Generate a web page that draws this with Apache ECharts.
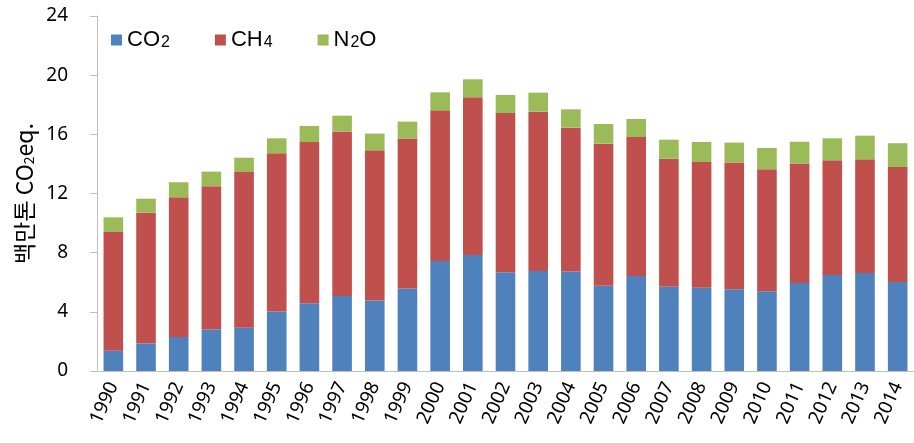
<!DOCTYPE html>
<html>
<head>
<meta charset="utf-8">
<script src="https://cdn.jsdelivr.net/npm/echarts@6/dist/echarts.min.js"></script>
<style>
	html, body { margin: 0; padding: 0; background: #fff; }
	#chart { width: 914px; height: 443px; }
</style>
</head>
<body>
<div id="chart"></div>
<script>
	// 연도
	var years = ['1990', '1991', '1992', '1993', '1994', '1995', '1996', '1997', '1998', '1999',
		'2000', '2001', '2002', '2003', '2004', '2005', '2006', '2007', '2008', '2009',
		'2010', '2011', '2012', '2013', '2014'];
	// 백만톤 CO2eq.
	var co2 = [1.37, 1.87, 2.30, 2.82, 2.93, 4.03, 4.58, 5.07, 4.76, 5.57,
		7.44, 7.84, 6.67, 6.76, 6.72, 5.77, 6.42, 5.70, 5.63, 5.52,
		5.39, 5.95, 6.49, 6.63, 6.02];
	var ch4 = [8.03, 8.83, 9.44, 9.67, 10.52, 10.69, 10.90, 11.13, 10.16, 10.14,
		10.19, 10.67, 10.77, 10.77, 9.73, 9.60, 9.40, 8.65, 8.50, 8.57,
		8.25, 8.07, 7.75, 7.68, 7.77];
	var n2o = [0.99, 0.95, 1.02, 0.99, 0.97, 1.01, 1.09, 1.06, 1.13, 1.15,
		1.21, 1.21, 1.22, 1.29, 1.24, 1.33, 1.22, 1.29, 1.35, 1.35,
		1.44, 1.48, 1.49, 1.60, 1.61];
	var yTicks = [0, 4, 8, 12, 16, 20, 24];

	var legendText = {
		'CO2': '{a|CO}{s|2}',
		'CH4': '{a|CH}{s|4}',
		'N2O': '{a|N}{s|2}{a|O}'
	};

	var chart = echarts.init(document.getElementById('chart'));
	var option = {
		animation: false,
		color: ['#4F81BD', '#C0504D', '#9BBB59'],
		grid: {
			left: 97,
			right: -13,
			top: 16,
			bottom: 72
		},
		legend: {
			left: 106,
			top: 24,
			itemWidth: 11,
			itemHeight: 11,
			itemGap: 45,
			icon: 'rect',
			data: ['CO2', 'CH4', 'N2O'],
			formatter: function (name) {
				return legendText[name];
			},
			textStyle: {
				color: '#000',
				rich: {
					a: { fontSize: 22, fontFamily: 'Liberation Sans Narrow, Liberation Sans', color: '#000' },
					s: { fontSize: 16, fontFamily: 'Liberation Sans Narrow, Liberation Sans', color: '#000', verticalAlign: 'bottom', padding: [6, 0, 0, 1] }
				}
			}
		},
		xAxis: {
			type: 'category',
			data: years,
			axisLine: { lineStyle: { color: '#bfbfbf' } },
			axisTick: { show: false },
			axisLabel: {
				rotate: 66,
				interval: 0,
				margin: 12,
				color: '#000',
				fontSize: 19,
				fontFamily: 'Noto Sans'
			}
		},
		yAxis: {
			type: 'value',
			min: yTicks[0],
			max: yTicks[yTicks.length - 1],
			interval: 4,
			name: '{a|백만톤 CO}{s|2}{a|eq.}',
			nameLocation: 'middle',
			nameGap: 58,
			nameTextStyle: {
				rich: {
					a: { fontSize: 23, fontFamily: 'Noto Sans CJK KR', color: '#000' },
					s: { fontSize: 14, fontFamily: 'Noto Sans CJK KR', color: '#000', padding: [9, 0, 0, 0] }
				}
			},
			axisLine: { show: true, lineStyle: { color: '#bfbfbf' } },
			axisTick: { show: true, inside: false, length: 7, lineStyle: { color: '#bfbfbf' } },
			splitLine: { show: false },
			axisLabel: {
				margin: 29,
				color: '#000',
				fontSize: 19,
				fontFamily: 'Noto Sans'
			}
		},
		series: [
			{ name: 'CO2', type: 'bar', stack: 'total', barWidth: '60%', data: co2 },
			{ name: 'CH4', type: 'bar', stack: 'total', barWidth: '60%', data: ch4 },
			{ name: 'N2O', type: 'bar', stack: 'total', barWidth: '60%', data: n2o }
		]
	};
	chart.setOption(option);
</script>
</body>
</html>
